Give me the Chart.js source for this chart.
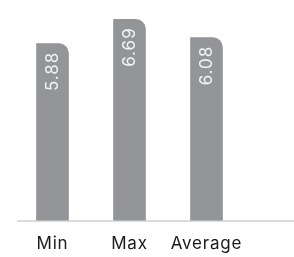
<!DOCTYPE html>
<html>
<head>
<meta charset="utf-8">
<script src="https://cdn.jsdelivr.net/npm/chart.js@4/dist/chart.umd.min.js"></script>
<style>
  html, body { margin: 0; padding: 0; background: #fff; }
  #wrap { width: 294px; height: 257px; position: relative; }
</style>
</head>
<body>
<div id="wrap"><canvas id="statChart"></canvas></div>
<script>
const categories = ['Min', 'Max', 'Average'];
const values = [5.88, 6.69, 6.08];
const yMax = 7;

document.addEventListener('DOMContentLoaded', () => {
    const canvas = document.getElementById('statChart');
    const ctx = canvas.getContext('2d');

    const valueLabels = {
        id: 'valueLabels',
        afterDatasetsDraw: (chart) => {
            const c = chart.ctx;
            const meta = chart.getDatasetMeta(0);
            c.save();
            c.fillStyle = '#f4f4f4';
            c.font = '17px Inter';
            c.letterSpacing = '1px';
            meta.data.forEach((bar, i) => {
                c.save();
                c.translate(bar.x, bar.y + 8);
                c.rotate(-Math.PI / 2);
                c.textAlign = 'right';
                c.textBaseline = 'middle';
                c.fillText(values[i].toFixed(2), 0, 0);
                c.restore();
            });
            c.restore();
        }
    };

    // light rule under the bars, running out to the right edge
    const baseline = {
        id: 'baseline',
        beforeDraw: (chart) => {
            chart.ctx.letterSpacing = '0.8px';
        },
        beforeDatasetsDraw: (chart) => {
            const c = chart.ctx;
            const area = chart.chartArea;
            c.save();
            c.beginPath();
            c.moveTo(17, area.bottom + 0.5);
            c.lineTo(chart.width, area.bottom + 0.5);
            c.strokeStyle = '#cfcfcf';
            c.lineWidth = 1.5;
            c.stroke();
            c.restore();
        }
    };

    new Chart(ctx, {
        type: 'bar',
        data: {
            labels: categories,
            datasets: [{
                data: values,
                backgroundColor: '#939598',
                barThickness: 32,
                borderRadius: { topLeft: 0, topRight: 10, bottomLeft: 0, bottomRight: 0 },
                borderSkipped: false
            }]
        },
        options: {
            responsive: true,
            maintainAspectRatio: false,
            animation: false,
            layout: {
                padding: { top: 10, right: 49, bottom: -10, left: 14 }
            },
            scales: {
                x: {
                    grid: { display: false, drawTicks: false },
                    border: { display: false },
                    ticks: {
                        color: '#1a1a1a',
                        padding: 13,
                        font: { family: 'Inter', size: 17 }
                    }
                },
                y: {
                    display: false,
                    min: 0,
                    max: yMax
                }
            },
            plugins: {
                legend: { display: false },
                tooltip: { enabled: false }
            }
        },
        plugins: [baseline, valueLabels]
    });
});
</script>
</body>
</html>
